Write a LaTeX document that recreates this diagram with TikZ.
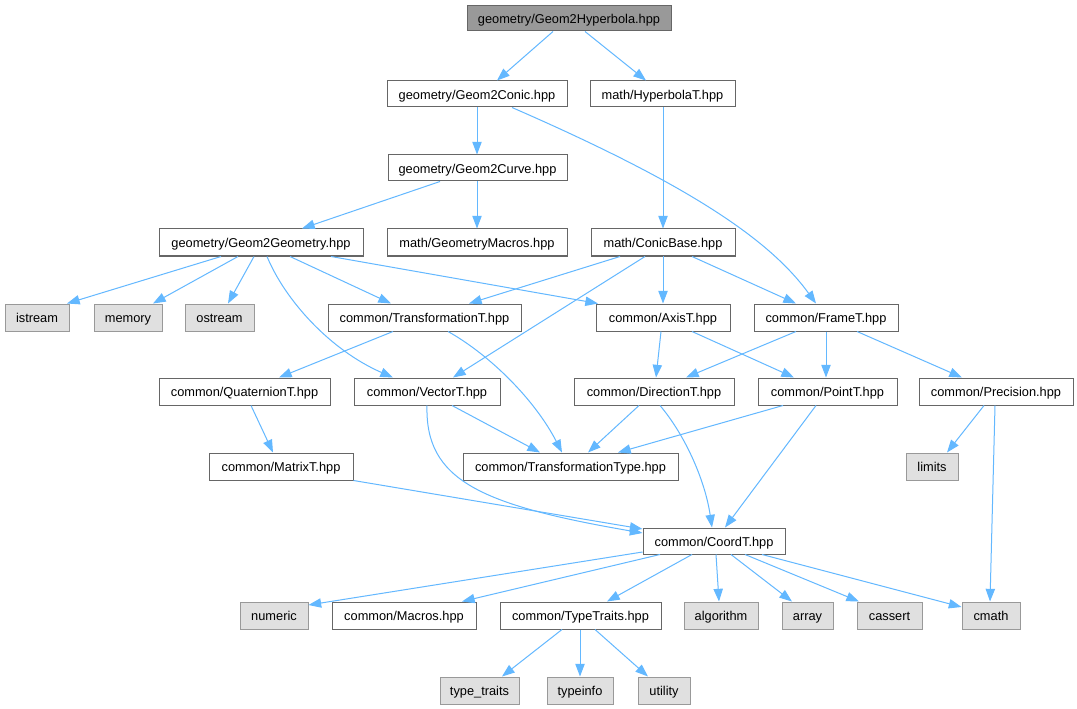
\documentclass[tikz,border=0pt]{standalone}
\usepackage{fontspec}
\setmainfont{Liberation Sans}
\usetikzlibrary{arrows.meta}
\definecolor{edgecol}{HTML}{63B8FF}
\definecolor{nodeborder}{HTML}{666666}
\definecolor{extborder}{HTML}{999999}
\definecolor{extfill}{HTML}{E0E0E0}
\definecolor{rootfill}{HTML}{999999}
\newcommand\mknode[7]{%
  \pgfmathsetmacro\mkcx{(#3+#5)/2}%
  \pgfmathsetmacro\mkcy{(#4+#6)/2}%
  \pgfmathsetmacro\mkw{(#5-#3)*0.75}%
  \pgfmathsetmacro\mkh{(#6-#4)*0.75}%
  \node[#1,minimum width=\mkw pt,minimum height=\mkh pt] (#2) at (\mkcx,\mkcy) {#7};}
\begin{document}
\begin{tikzpicture}[x=0.75pt,y=-0.75pt,
  base/.style={rectangle,inner sep=0pt,line width=0.75pt,text height=10pt,text depth=2pt,font=\fontsize{9.6}{11}\selectfont,text=black},
  filebox/.style={base,draw=nodeborder,fill=white},
  extbox/.style={base,draw=extborder,fill=extfill},
  rootbox/.style={base,draw=nodeborder,fill=rootfill},
  dep/.style={draw=edgecol,line width=0.75pt,-{Triangle[length=9.5pt,width=7pt]}}]
\useasboundingbox[fill=white] (0,0) rectangle (1077,709);
% nodes
\mknode{rootbox}{hyp}{467}{6}{671}{31}{geometry/Geom2Hyperbola.hpp}
\mknode{filebox}{conic}{387}{81}{567}{107}{geometry/Geom2Conic.hpp}
\mknode{filebox}{hypT}{590}{81}{735}{107}{math/HyperbolaT.hpp}
\mknode{filebox}{curve}{388}{155}{567}{181}{geometry/Geom2Curve.hpp}
\mknode{filebox}{geom}{159}{229}{363}{256}{geometry/Geom2Geometry.hpp}
\mknode{filebox}{gmac}{387}{229}{567}{256}{math/GeometryMacros.hpp}
\mknode{filebox}{conicb}{591}{229}{735}{256}{math/ConicBase.hpp}
\mknode{extbox}{istream}{5}{304}{69}{331}{istream}
\mknode{extbox}{memory}{94}{304}{162}{331}{memory}
\mknode{extbox}{ostream}{185}{304}{254}{331}{ostream}
\mknode{filebox}{trT}{328}{304}{521}{331}{common/TransformationT.hpp}
\mknode{filebox}{axis}{596}{304}{730}{331}{common/AxisT.hpp}
\mknode{filebox}{frame}{754}{304}{898}{331}{common/FrameT.hpp}
\mknode{filebox}{quat}{159}{378}{330}{405}{common/QuaternionT.hpp}
\mknode{filebox}{vec}{354}{378}{500}{405}{common/VectorT.hpp}
\mknode{filebox}{dir}{574}{378}{734}{405}{common/DirectionT.hpp}
\mknode{filebox}{point}{758}{378}{897}{405}{common/PointT.hpp}
\mknode{filebox}{prec}{919}{378}{1073}{405}{common/Precision.hpp}
\mknode{filebox}{matrix}{209}{453}{353}{480}{common/MatrixT.hpp}
\mknode{filebox}{trType}{463}{453}{678}{480}{common/TransformationType.hpp}
\mknode{extbox}{limits}{906}{453}{958}{480}{limits}
\mknode{filebox}{coord}{643}{528}{785}{554}{common/CoordT.hpp}
\mknode{extbox}{numeric}{240}{602}{308}{629}{numeric}
\mknode{filebox}{macros}{332}{602}{476}{629}{common/Macros.hpp}
\mknode{filebox}{typetr}{500}{602}{661}{629}{common/TypeTraits.hpp}
\mknode{extbox}{algorithm}{684}{602}{758}{629}{algorithm}
\mknode{extbox}{array}{782}{602}{833}{629}{array}
\mknode{extbox}{cassert}{857}{602}{922}{629}{cassert}
\mknode{extbox}{cmath}{962}{602}{1020}{629}{cmath}
\mknode{extbox}{typetraits}{440}{677}{519}{704}{type\_traits}
\mknode{extbox}{typeinfo}{547}{677}{613}{704}{typeinfo}
\mknode{extbox}{utility}{638}{677}{690}{704}{utility}
% edges
\draw[dep] (hyp.south -| 553,0) -- (conic.north -| 497,0);
\draw[dep] (hyp.south -| 585,0) -- (hypT.north -| 646,0);
\draw[dep] (conic.south -| 477,0) -- (curve.north -| 477,0);
\draw[dep] (conic.south -| 512,0) .. controls (690,185) and (770,240) .. (frame.north -| 816,0);
\draw[dep] (hypT.south -| 663,0) -- (conicb.north -| 663,0);
\draw[dep] (curve.south -| 440,0) -- (geom.north -| 302,0);
\draw[dep] (curve.south -| 477,0) -- (gmac.north -| 477,0);
\draw[dep] (geom.south -| 221,0) -- (istream.north -| 67,0);
\draw[dep] (geom.south -| 238,0) -- (memory.north -| 153,0);
\draw[dep] (geom.south -| 254,0) -- (ostream.north -| 228,0);
\draw[dep] (geom.south -| 267,0) .. controls (285,300) and (330,350) .. (vec.north -| 393,0);
\draw[dep] (geom.south -| 290,0) -- (trT.north -| 391,0);
\draw[dep] (geom.south -| 331,0) -- (axis.north -| 598,0);
\draw[dep] (conicb.south -| 620,0) -- (trT.north -| 469,0);
\draw[dep] (conicb.south -| 645,0) -- (vec.north -| 453,0);
\draw[dep] (conicb.south -| 663,0) -- (axis.north -| 663,0);
\draw[dep] (conicb.south -| 692,0) -- (frame.north -| 796,0);
\draw[dep] (trT.south -| 393,0) -- (quat.north -| 279,0);
\draw[dep] (trT.south -| 448,0) .. controls (490,355) and (535,400) .. (trType.north -| 562,0);
\draw[dep] (axis.south -| 661,0) -- (dir.north -| 656,0);
\draw[dep] (axis.south -| 692,0) -- (point.north -| 794,0);
\draw[dep] (frame.south -| 796,0) -- (dir.north -| 686,0);
\draw[dep] (frame.south -| 826,0) -- (point.north -| 826,0);
\draw[dep] (frame.south -| 857,0) -- (prec.north -| 962,0);
\draw[dep] (quat.south -| 251,0) -- (matrix.north -| 273,0);
\draw[dep] (vec.south -| 427,0) .. controls (425,480) and (480,505) .. (coord.west |- 0,533);
\draw[dep] (vec.south -| 452,0) -- (trType.north -| 540,0);
\draw[dep] (dir.south -| 639,0) -- (trType.north -| 588,0);
\draw[dep] (dir.south -| 660,0) .. controls (685,435) and (705,480) .. (coord.north -| 712,0);
\draw[dep] (point.south -| 783,0) -- (trType.north -| 618,0);
\draw[dep] (point.south -| 816,0) -- (coord.north -| 725,0);
\draw[dep] (prec.south -| 984,0) -- (limits.north -| 947,0);
\draw[dep] (prec.south -| 995,0) -- (cmath.north -| 990,0);
\draw[dep] (matrix.south east) -- (coord.west |- 0,529);
\draw[dep] (coord.west |- 0,552) -- (numeric.east |- 0,605);
\draw[dep] (coord.south -| 660,0) -- (macros.north -| 462,0);
\draw[dep] (coord.south -| 692,0) -- (typetr.north -| 607,0);
\draw[dep] (coord.south -| 716,0) -- (algorithm.north -| 719,0);
\draw[dep] (coord.south -| 731,0) -- (array.north -| 792,0);
\draw[dep] (coord.south -| 745,0) -- (cassert.north -| 859,0);
\draw[dep] (coord.south -| 762,0) -- (cmath.west |- 0,607);
\draw[dep] (typetr.south -| 562,0) -- (typetraits.north -| 502,0);
\draw[dep] (typetr.south -| 580,0) -- (typeinfo.north -| 580,0);
\draw[dep] (typetr.south -| 595,0) -- (utility.north -| 648,0);
\end{tikzpicture}
\end{document}
